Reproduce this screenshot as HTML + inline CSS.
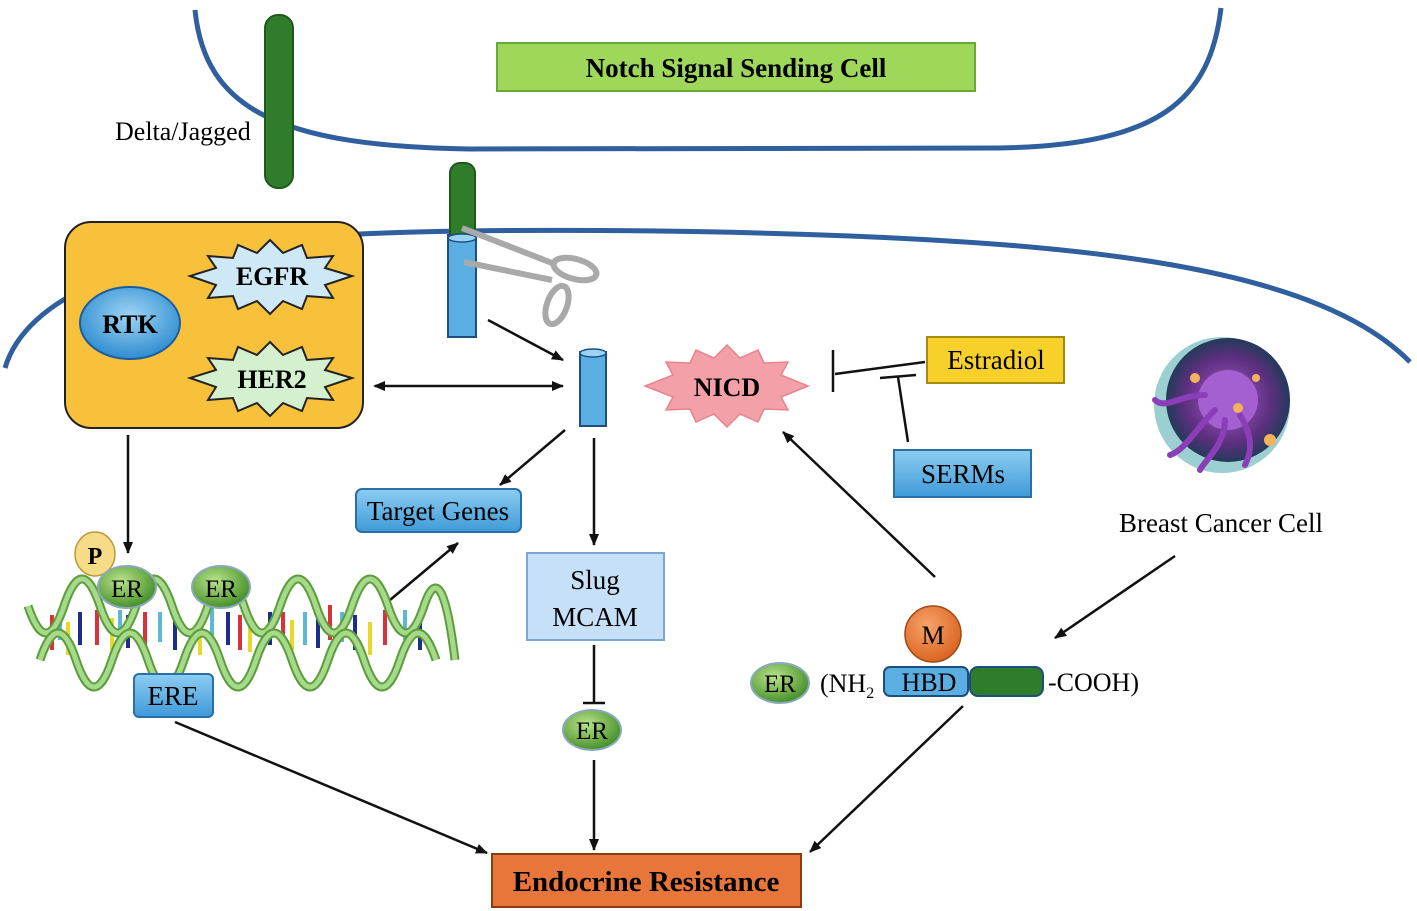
<!DOCTYPE html>
<html><head><meta charset="utf-8"><style>
html,body{margin:0;padding:0;background:#fff;}
svg{display:block;font-family:"Liberation Serif",serif;}
</style></head><body>
<svg width="1417" height="911" viewBox="0 0 1417 911" xmlns="http://www.w3.org/2000/svg">
<defs>
<marker id="ah" markerWidth="14" markerHeight="12" refX="11" refY="6" orient="auto" markerUnits="userSpaceOnUse"><path d="M0,1 L12,6 L0,11 z" fill="#111"/></marker>
<marker id="ahs" markerWidth="14" markerHeight="12" refX="3" refY="6" orient="auto" markerUnits="userSpaceOnUse"><path d="M13,1 L1,6 L13,11 z" fill="#111"/></marker>
<linearGradient id="bl" x1="0" y1="0" x2="0" y2="1"><stop offset="0" stop-color="#8ccdf2"/><stop offset="1" stop-color="#3f9ad8"/></linearGradient>
<radialGradient id="gr" cx="0.4" cy="0.35" r="0.7"><stop offset="0" stop-color="#b9e38a"/><stop offset="1" stop-color="#3f8a25"/></radialGradient>
<radialGradient id="rtk" cx="0.5" cy="0.4" r="0.6"><stop offset="0" stop-color="#9ed5f5"/><stop offset="1" stop-color="#2f8cd0"/></radialGradient>
<radialGradient id="or" cx="0.4" cy="0.35" r="0.7"><stop offset="0" stop-color="#f7a36a"/><stop offset="1" stop-color="#d9611e"/></radialGradient>
<radialGradient id="cell" cx="0.5" cy="0.5" r="0.5"><stop offset="0" stop-color="#a35cc9"/><stop offset="0.7" stop-color="#5d2f7f"/><stop offset="1" stop-color="#243a5a"/></radialGradient>
</defs>
<path d="M195,10 C205,110 280,146 470,149 L1000,148 C1160,145 1210,100 1221,8" fill="none" stroke="#2f5f9e" stroke-width="5"/>
<path d="M5,368 C25,300 130,245 360,234 C500,228 700,230 850,236 C1100,246 1320,270 1410,362" fill="none" stroke="#2f5f9e" stroke-width="5"/>
<rect x="497" y="43" width="478" height="48" fill="#9fd75a" stroke="#6aa83a" stroke-width="2"/>
<text x="736" y="77" text-anchor="middle" font-size="27" font-weight="bold">Notch Signal Sending Cell</text>
<rect x="265" y="15" width="28" height="173" rx="13" fill="#2f7d2a" stroke="#1d5a1a" stroke-width="2"/>
<text x="115" y="140" font-size="26">Delta/Jagged</text>
<rect x="450" y="163" width="25" height="90" rx="10" fill="#2f7d2a" stroke="#1d5a1a" stroke-width="2"/>
<rect x="448" y="235" width="28" height="102" fill="#5aaee2" stroke="#1d4e80" stroke-width="2"/>
<ellipse cx="462" cy="238" rx="14" ry="4" fill="#9ad3f5" stroke="#1d4e80" stroke-width="1.5"/>
<g fill="none" stroke="#a9a9a9" stroke-width="6">
<ellipse cx="575" cy="269" rx="22" ry="10" transform="rotate(15 575 269)"/>
<ellipse cx="557" cy="305" rx="10" ry="20" transform="rotate(20 557 305)"/>
</g>
<path d="M462,228 L552,263 M464,262 L552,280" stroke="#a9a9a9" stroke-width="6"/>
<rect x="65" y="222" width="298" height="206" rx="26" fill="#f8c13c" stroke="#222" stroke-width="2"/>
<ellipse cx="130" cy="323" rx="50" ry="36" fill="url(#rtk)" stroke="#1d5d9e" stroke-width="2"/>
<text x="130" y="333" text-anchor="middle" font-size="26" font-weight="bold">RTK</text>
<polygon points="270,240 283,253 302,245 307,258 333,256 325,268 352,276 325,285 333,298 307,296 302,309 283,301 270,314 257,301 238,309 233,296 208,298 216,285 190,276 216,268 208,256 233,258 238,245 257,253" fill="#cfe8f6" stroke="#222" stroke-width="2"/>
<text x="272" y="285" text-anchor="middle" font-size="26" font-weight="bold">EGFR</text>
<g transform="translate(0,102)"><polygon points="270,240 283,253 302,245 307,258 333,256 325,268 352,276 325,285 333,298 307,296 302,309 283,301 270,314 257,301 238,309 233,296 208,298 216,285 190,276 216,268 208,256 233,258 238,245 257,253" fill="#d4f0cf" stroke="#222" stroke-width="2"/></g>
<text x="272" y="388" text-anchor="middle" font-size="26" font-weight="bold">HER2</text>
<rect x="580" y="352" width="26" height="74" fill="#5aaee2" stroke="#1d4e80" stroke-width="2"/>
<ellipse cx="593" cy="353" rx="13" ry="4" fill="#9ad3f5" stroke="#1d4e80" stroke-width="1.5"/>
<g stroke="#111" stroke-width="2.5" fill="none">
<line x1="488" y1="320" x2="563" y2="360" marker-end="url(#ah)"/>
<line x1="375" y1="386" x2="563" y2="386" marker-end="url(#ah)" marker-start="url(#ahs)"/>
<line x1="128" y1="435" x2="128" y2="553" marker-end="url(#ah)"/>
<line x1="565" y1="430" x2="500" y2="485" marker-end="url(#ah)"/>
<line x1="594" y1="438" x2="594" y2="545" marker-end="url(#ah)"/>
<line x1="390" y1="600" x2="458" y2="543" marker-end="url(#ah)"/>
<line x1="594" y1="645" x2="594" y2="703"/>
<line x1="583" y1="703" x2="605" y2="703"/>
<line x1="594" y1="760" x2="594" y2="850" marker-end="url(#ah)"/>
<line x1="175" y1="722" x2="487" y2="853" marker-end="url(#ah)"/>
<line x1="963" y1="706" x2="810" y2="852" marker-end="url(#ah)"/>
<line x1="935" y1="577" x2="783" y2="432" marker-end="url(#ah)"/>
<line x1="1175" y1="556" x2="1055" y2="638" marker-end="url(#ah)"/>
<line x1="925" y1="362" x2="835" y2="374"/>
<line x1="833" y1="350" x2="833" y2="392"/>
<line x1="908" y1="442" x2="898" y2="377"/>
<line x1="880" y1="378" x2="916" y2="375"/>
</g>
<polygon points="727,345 740,358 758,350 764,363 788,362 781,375 808,386 781,397 788,410 764,409 758,422 740,414 727,427 714,414 696,422 690,409 666,410 673,397 645,386 673,375 666,362 690,363 696,350 714,358" fill="#f4a0a8" stroke="#e8828c" stroke-width="1.5"/>
<text x="727" y="396" text-anchor="middle" font-size="26" font-weight="bold">NICD</text>
<rect x="927" y="337" width="137" height="46" fill="#f7d12a" stroke="#a38a10" stroke-width="2"/>
<text x="996" y="369" text-anchor="middle" font-size="27">Estradiol</text>
<rect x="894" y="450" width="137" height="47" fill="url(#bl)" stroke="#2a6fa8" stroke-width="2"/>
<text x="963" y="483" text-anchor="middle" font-size="27">SERMs</text>
<g>
<circle cx="1222" cy="405" r="68" fill="#3aa0a0" opacity="0.5"/>
<circle cx="1228" cy="400" r="62" fill="url(#cell)"/>
<circle cx="1228" cy="400" r="30" fill="#a45fd0"/>
<g stroke="#8a3fb8" stroke-width="6" fill="none" stroke-linecap="round">
<path d="M1215,410 C1195,430 1185,450 1170,455"/><path d="M1225,420 C1225,445 1205,460 1200,470"/><path d="M1240,415 C1255,440 1250,455 1245,465"/><path d="M1205,395 C1180,395 1165,410 1155,400"/>
</g>
<circle cx="1195" cy="378" r="5" fill="#f3b35a"/><circle cx="1238" cy="408" r="5" fill="#f3b35a"/><circle cx="1270" cy="440" r="6" fill="#f3b35a"/><circle cx="1256" cy="378" r="4" fill="#f3b35a"/>
</g>
<text x="1221" y="532" text-anchor="middle" font-size="27">Breast Cancer Cell</text>
<rect x="356" y="489" width="165" height="43" rx="6" fill="url(#bl)" stroke="#2a6fa8" stroke-width="2"/>
<text x="438" y="520" text-anchor="middle" font-size="27">Target Genes</text>
<rect x="527" y="553" width="137" height="87" fill="#c5e0f7" stroke="#7aa6cf" stroke-width="2"/>
<text x="595" y="589" text-anchor="middle" font-size="27">Slug</text>
<text x="595" y="626" text-anchor="middle" font-size="27">MCAM</text>
<!-- DNA -->
<g stroke-width="4">
<g stroke="#d8323a"><line x1="52" y1="615" x2="52" y2="650"/><line x1="97" y1="610" x2="97" y2="645"/><line x1="145" y1="612" x2="145" y2="645"/><line x1="240" y1="615" x2="240" y2="650"/><line x1="283" y1="612" x2="283" y2="645"/><line x1="330" y1="605" x2="330" y2="640"/><line x1="385" y1="610" x2="385" y2="645"/></g>
<g stroke="#e8d82a"><line x1="68" y1="622" x2="68" y2="655"/><line x1="112" y1="618" x2="112" y2="650"/><line x1="200" y1="622" x2="200" y2="655"/><line x1="250" y1="620" x2="250" y2="652"/><line x1="292" y1="620" x2="292" y2="650"/><line x1="370" y1="622" x2="370" y2="655"/></g>
<g stroke="#1c2d8a"><line x1="80" y1="612" x2="80" y2="645"/><line x1="128" y1="615" x2="128" y2="648"/><line x1="175" y1="615" x2="175" y2="650"/><line x1="228" y1="612" x2="228" y2="645"/><line x1="270" y1="612" x2="270" y2="645"/><line x1="318" y1="615" x2="318" y2="648"/><line x1="355" y1="615" x2="355" y2="650"/><line x1="420" y1="620" x2="420" y2="650"/></g>
<g stroke="#5bb8d6"><line x1="60" y1="612" x2="60" y2="640"/><line x1="120" y1="610" x2="120" y2="640"/><line x1="160" y1="612" x2="160" y2="642"/><line x1="212" y1="608" x2="212" y2="640"/><line x1="305" y1="612" x2="305" y2="645"/><line x1="342" y1="612" x2="342" y2="642"/><line x1="405" y1="610" x2="405" y2="640"/></g>
</g>
<g fill="none">
<path d="M28,606 Q46,660 64,606 T100,606 T136,606 T172,606 T208,606 T244,606 T280,606 T316,606 T352,606 T388,606 T424,606 T455,660" stroke="#5c9d3c" stroke-width="9"/>
<path d="M28,606 Q46,660 64,606 T100,606 T136,606 T172,606 T208,606 T244,606 T280,606 T316,606 T352,606 T388,606 T424,606 T455,660" stroke="#a6d98a" stroke-width="5"/>
<path d="M40,660 Q58,606 76,660 T112,660 T148,660 T184,660 T220,660 T256,660 T292,660 T328,660 T364,660 T400,660 T436,660" stroke="#5c9d3c" stroke-width="9"/>
<path d="M40,660 Q58,606 76,660 T112,660 T148,660 T184,660 T220,660 T256,660 T292,660 T328,660 T364,660 T400,660 T436,660" stroke="#a6d98a" stroke-width="5"/>
</g>
<ellipse cx="95" cy="554" rx="20" ry="22" fill="#f7dc88" stroke="#b99a3a" stroke-width="1.5"/>
<text x="95" y="564" text-anchor="middle" font-size="24" font-weight="bold">P</text>
<ellipse cx="127" cy="587" rx="29" ry="21" fill="url(#gr)" stroke="#8ab" stroke-width="2"/>
<text x="127" y="597" text-anchor="middle" font-size="25">ER</text>
<ellipse cx="221" cy="587" rx="29" ry="21" fill="url(#gr)" stroke="#8ab" stroke-width="2"/>
<text x="221" y="597" text-anchor="middle" font-size="25">ER</text>
<rect x="134" y="674" width="79" height="43" rx="5" fill="url(#bl)" stroke="#2a6fa8" stroke-width="2"/>
<text x="173" y="705" text-anchor="middle" font-size="27">ERE</text>
<ellipse cx="592" cy="730" rx="29" ry="20" fill="url(#gr)" stroke="#8ab" stroke-width="2"/>
<text x="592" y="739" text-anchor="middle" font-size="25">ER</text>
<circle cx="933" cy="634" r="28" fill="url(#or)" stroke="#a14a14" stroke-width="1.5"/>
<text x="933" y="644" text-anchor="middle" font-size="26">M</text>
<ellipse cx="780" cy="683" rx="29" ry="20" fill="url(#gr)" stroke="#8ab" stroke-width="2"/>
<text x="780" y="692" text-anchor="middle" font-size="25">ER</text>
<text x="820" y="692" font-size="26">(NH<tspan font-size="16" dy="6">2</tspan></text>
<rect x="884" y="667" width="84" height="29" rx="6" fill="#5aaee2" stroke="#1d4e80" stroke-width="2"/>
<text x="929" y="691" text-anchor="middle" font-size="26">HBD</text>
<rect x="970" y="667" width="73" height="29" rx="8" fill="#2f7d2a" stroke="#1d4e80" stroke-width="2"/>
<text x="1048" y="691" font-size="26">-COOH)</text>
<rect x="492" y="854" width="309" height="53" fill="#e8763a" stroke="#8a3d12" stroke-width="2"/>
<text x="646" y="891" text-anchor="middle" font-size="29" font-weight="bold">Endocrine Resistance</text>
</svg>
</body></html>
